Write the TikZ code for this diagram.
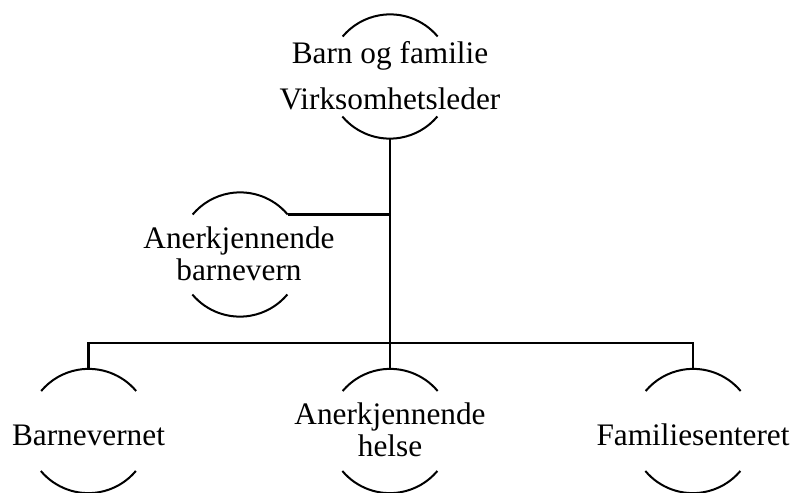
\documentclass[tikz,border=0pt]{standalone}
\usepackage{fontspec}
\setmainfont{Liberation Serif}
\begin{document}
\begin{tikzpicture}[x=1pt,y=1pt,
  ring/.style={circle,minimum size=124pt,inner sep=0pt,draw=none},
  lbl/.style={anchor=base,inner sep=0pt,font=\fontsize{31.3}{32}\selectfont},
  arcline/.style={line width=2pt},
  conn/.style={line width=2.2pt}]
\useasboundingbox (0,0) rectangle (794,-492);
% rings
\node[ring] (top) at (390,-76.5) {};
\node[ring] (left) at (240,-254.5) {};
\node[ring] (c1) at (88.5,-431) {};
\node[ring] (c2) at (390,-431) {};
\node[ring] (c3) at (693,-431) {};
\foreach \n in {top,left,c1,c2,c3}{
  \draw[arcline] (\n.40) arc[start angle=40,end angle=140,radius=62pt];
  \draw[arcline] (\n.220) arc[start angle=220,end angle=320,radius=62pt];
}
% labels
\node[lbl] (t1) at (390,-63.3) {Barn og familie};
\node[lbl] (t2) at (390,-110) {Virksomhetsleder};
\node[lbl] (l1) at (239,-248.3) {Anerkjennende};
\node[lbl] (l2) at (239,-280) {barnevern};
\node[lbl] (b1) at (88.5,-445) {Barnevernet};
\node[lbl] (b2a) at (390,-424.5) {Anerkjennende};
\node[lbl] (b2b) at (390,-456.5) {helse};
\node[lbl] (b3) at (693,-445) {Familiesenteret};
% connectors
\coordinate (busmid) at (390,-343.3);
\draw[conn] (top.south) -- (busmid);
\draw[conn] (left.40) -- (left.40 -| top.south);
\draw[conn] (c1.north) |- (busmid) -| (c3.north);
\draw[conn] (busmid) -- (c2.north);
\end{tikzpicture}
\end{document}
